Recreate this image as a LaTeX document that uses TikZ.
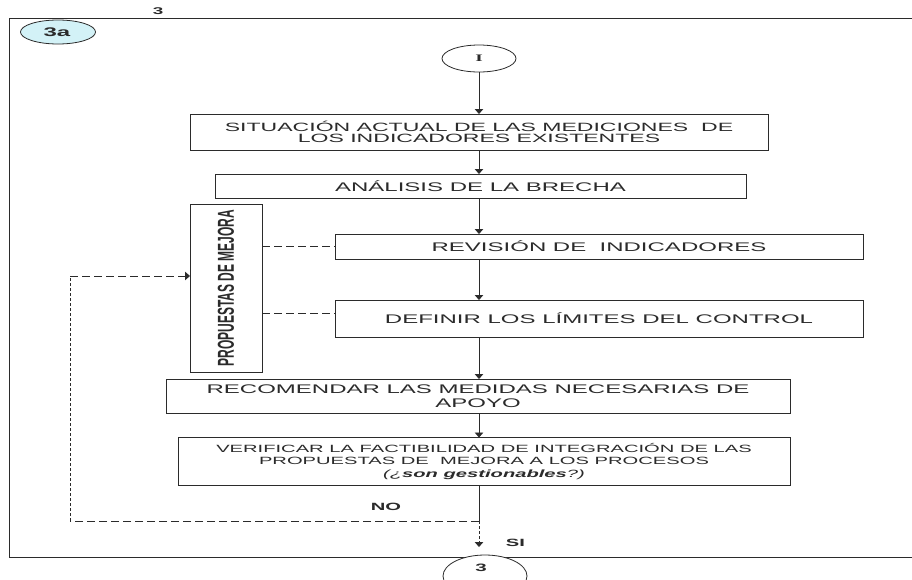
\documentclass[tikz,border=0pt]{standalone}
\usepackage{fontspec}
\usepackage{graphicx}
\usetikzlibrary{arrows.meta,shapes.geometric}
\setmainfont{Liberation Sans}
% wide lettering used throughout the chart
\newfontfamily\boxfont[FakeStretch=1.92]{Liberation Sans}
\newfontfamily\serifwide[FakeStretch=1.92]{Liberation Serif}
\newfontfamily\sidefont{Liberation Sans}

\definecolor{ink}{HTML}{2B2B2B}
\definecolor{tagfill}{HTML}{D3F2F7}

\begin{document}
\begin{tikzpicture}[x=1pt,y=-1pt,
  every node/.style={inner sep=0pt, outer sep=0pt, text=ink},
  stepbox/.style={draw=ink, line width=0.9pt, rectangle, align=center},
  oval/.style={draw=ink, line width=0.8pt, ellipse, fill=white},
  arr/.style={-{Triangle[length=5pt,width=8.5pt]}},
  link/.style={draw=ink, line width=0.9pt},
  hdash/.style={link, dash pattern=on 8pt off 4pt},
  vdash/.style={link, dash pattern=on 3pt off 2pt},
  lbl/.style={font=\boxfont\bfseries\fontsize{10.5}{12}\selectfont}
]
\clip (0,0) rectangle (912,579);
\fill[white] (0,0) rectangle (912,579);

% outer frame (open towards the right edge)
\draw[ink, line width=0.9pt] (925,18.5) -- (9.5,18.5) -- (9.5,557.5) -- (925,557.5);

% page tag and sheet number
\node[lbl, font=\boxfont\bfseries\fontsize{9.8}{11}\selectfont] (sheet) at (158,11.5) {3};
\node[oval, fill=tagfill, minimum width=75pt, minimum height=24pt] (tag) at (58,32) {};
\node[lbl, font=\boxfont\bfseries\fontsize{12.5}{13}\selectfont] (tagtxt) at (57,32.5) {3a};

% start connector
\node[oval, minimum width=74pt, minimum height=27pt,
      font=\serifwide\bfseries\fontsize{10}{10}\selectfont] (start) at (479,58.5) {I};

% process steps
\node[stepbox, minimum width=578pt, minimum height=36pt,
      font=\boxfont\fontsize{12}{11.6}\selectfont] (b1) at (479,132)
  {SITUACIÓN ACTUAL DE LAS MEDICIONES\ \ DE\\LOS INDICADORES EXISTENTES};
\node[stepbox, minimum width=531pt, minimum height=24pt,
      font=\boxfont\fontsize{12.5}{13}\selectfont] (b2) at (480.5,186)
  {ANÁLISIS DE LA BRECHA};
\node[stepbox, minimum width=528pt, minimum height=25pt,
      font=\boxfont\fontsize{12.5}{13}\selectfont] (b3) at (599,246.5)
  {REVISIÓN DE\ \ INDICADORES};
\node[stepbox, minimum width=528pt, minimum height=37pt,
      font=\boxfont\fontsize{12.5}{13}\selectfont] (b4) at (599,318.5)
  {\raisebox{-4pt}{DEFINIR LOS LÍMITES DEL CONTROL}};
\node[stepbox, minimum width=624pt, minimum height=34pt,
      font=\boxfont\fontsize{12.5}{13.5}\selectfont] (b5) at (478,396)
  {RECOMENDAR LAS MEDIDAS NECESARIAS DE\\APOYO};
\node[stepbox, minimum width=612pt, minimum height=48pt,
      font=\boxfont\fontsize{10.5}{12.5}\selectfont] (b6) at (484,461.5)
  {VERIFICAR LA FACTIBILIDAD DE INTEGRACIÓN DE LAS\\
   PROPUESTAS DE\ \ MEJORA A LOS PROCESOS\\
   \textit{(¿\textbf{son gestionables}?)}};

% side box with vertical title
\node[stepbox, minimum width=72pt, minimum height=168pt] (prop) at (226,288)
  {\rotatebox{90}{\scalebox{1}[1.92]{\sidefont\bfseries\fontsize{12}{12}\selectfont PROPUESTAS DE MEJORA}}};

% end connector
\node[oval, minimum width=84pt, minimum height=42pt] (finish) at (485,576) {};
\node[lbl, font=\boxfont\bfseries\fontsize{10.7}{11}\selectfont] (finishtxt) at (481,568) {3};

% main flow
\draw[link, arr] (start) -- (b1);
\draw[link, arr] (b1.south) -- (b1.south |- b2.north);
\draw[link, arr] (b1.south |- b2.south) -- (b1.south |- b3.north);
\draw[link, arr] (b1.south |- b3.south) -- (b1.south |- b4.north);
\draw[link, arr] (b1.south |- b4.south) -- (b1.south |- b5.north);
\draw[link, arr] (b1.south |- b5.south) -- (b1.south |- b6.north);

% links from the improvement proposals to the steps they feed
\coordinate (b4tap) at ([yshift=5.5pt]b4.west);
\draw[hdash] (prop.east |- b3.west) -- (b3.west);
\draw[hdash] (prop.east |- b4tap) -- (b4tap);

% decision outcome
\coordinate (junction) at (479,521);
\coordinate (loopcorner) at (70,521);
\coordinate (loopup) at (70,276);
\coordinate (sitip) at (479,547);
\draw[link] (b1.south |- b6.south) -- (junction);
\draw[hdash] (junction) -- (loopcorner);
\draw[vdash] (loopcorner) -- (loopup);
\draw[hdash, arr] (loopup) -- (loopup -| prop.west);
\draw[vdash, arr] (junction) -- (sitip);

\node[lbl] (no) at (386,507) {NO};
\node[lbl] (si) at (515.5,543) {SI};
\end{tikzpicture}
\end{document}
